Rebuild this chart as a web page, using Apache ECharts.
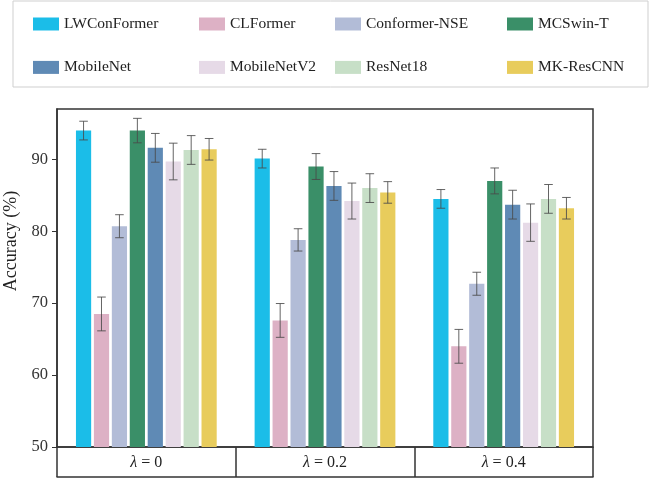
<!DOCTYPE html>
<html>
<head>
<meta charset="utf-8">
<script src="https://cdn.jsdelivr.net/npm/echarts@6/dist/echarts.min.js"></script>
<style>
    html, body { margin: 0; padding: 0; background: #fff; }
    #main { width: 652px; height: 481px; }
</style>
</head>
<body>
<div id="main"></div>
<script>
// 数据
var lambdas = ['0', '0.2', '0.4'];
var models = ['LWConFormer', 'CLFormer', 'Conformer-NSE', 'MCSwin-T', 'MobileNet', 'MobileNetV2', 'ResNet18', 'MK-ResCNN'];
var colors = ['#1bbde8', '#ddb1c5', '#b2bcd7', '#3a8f68', '#5f8ab5', '#e6dae7', '#c7dfc7', '#e8cc5c'];

var lwconformer = [94.0, 90.1, 84.5];
var clformer = [68.5, 67.6, 64.0];
var conformerNse = [80.7, 78.8, 72.7];
var mcswinT = [94.0, 89.0, 87.0];
var mobilenet = [91.6, 86.3, 83.7];
var mobilenetV2 = [89.7, 84.2, 81.2];
var resnet18 = [91.3, 86.0, 84.5];
var mkResCnn = [91.4, 85.4, 83.2];

// 误差 (±)
var lwconformerErr = [1.3, 1.3, 1.3];
var clformerErr = [2.35, 2.35, 2.35];
var conformerNseErr = [1.6, 1.55, 1.6];
var mcswinTErr = [1.7, 1.8, 1.8];
var mobilenetErr = [2.0, 2.0, 2.0];
var mobilenetV2Err = [2.55, 2.5, 2.6];
var resnet18Err = [2.0, 2.0, 2.0];
var mkResCnnErr = [1.5, 1.5, 1.5];

var yTicks = [50, 60, 70, 80, 90];

var values = [lwconformer, clformer, conformerNse, mcswinT, mobilenet, mobilenetV2, resnet18, mkResCnn];
var errors = [lwconformerErr, clformerErr, conformerNseErr, mcswinTErr, mobilenetErr, mobilenetV2Err, resnet18Err, mkResCnnErr];

var BAR_W = 15.2;
var BAR_GAP = 0.18;
var FONT = 'Liberation Serif';

var myChart = echarts.init(document.getElementById('main'));

var series = [];
for (var i = 0; i < models.length; i++) {
    series.push({
        name: models[i],
        type: 'bar',
        data: values[i],
        barWidth: BAR_W,
        barGap: (BAR_GAP * 100) + '%',
        itemStyle: { color: colors[i] },
        z: 2
    });
}

// 误差线数据: [类别, 模型序号, 下限, 上限]
var errData = [];
for (var i = 0; i < models.length; i++) {
    for (var j = 0; j < lambdas.length; j++) {
        errData.push([j, i, values[i][j] - errors[i][j], values[i][j] + errors[i][j]]);
    }
}

function renderError(params, api) {
    var cat = api.value(0);
    var k = api.value(1);
    var lo = api.coord([cat, api.value(2)]);
    var hi = api.coord([cat, api.value(3)]);
    var x = lo[0] + (k - (models.length - 1) / 2) * BAR_W * (1 + BAR_GAP);
    var cap = 4.3;
    var style = { stroke: '#4a4a4a', lineWidth: 1, opacity: 0.85 };
    return {
        type: 'group',
        children: [
            { type: 'line', shape: { x1: x, y1: lo[1], x2: x, y2: hi[1] }, style: style },
            { type: 'line', shape: { x1: x - cap, y1: hi[1], x2: x + cap, y2: hi[1] }, style: style },
            { type: 'line', shape: { x1: x - cap, y1: lo[1], x2: x + cap, y2: lo[1] }, style: style }
        ]
    };
}

series.push({
    type: 'custom',
    renderItem: renderError,
    data: errData,
    encode: { x: 0, y: [2, 3] },
    z: 5,
    silent: true
});

function legendCol(left, names) {
    return {
        orient: 'vertical',
        left: left,
        top: 11,
        itemWidth: 26,
        itemHeight: 13,
        itemGap: 27.4,
        itemTextGap: 12,
        icon: 'rect',
        data: names,
        textStyle: { fontFamily: FONT, fontSize: 15.5, color: '#222', lineHeight: 16 }
    };
}

var option = {
    backgroundColor: '#fff',
    animation: false,
    textStyle: { fontFamily: FONT },
    legend: [
        legendCol(28, ['LWConFormer', 'MobileNet']),
        legendCol(194, ['CLFormer', 'MobileNetV2']),
        legendCol(330, ['Conformer-NSE', 'ResNet18']),
        legendCol(502, ['MCSwin-T', 'MK-ResCNN'])
    ],
    graphic: [{
        type: 'rect',
        shape: { x: 13, y: 1, width: 635, height: 86 },
        style: { fill: 'none', stroke: '#cfcfcf', lineWidth: 1 },
        silent: true
    }],
    grid: {
        left: 57,
        right: 59,
        top: 109,
        bottom: 34,
        containLabel: false,
        outerBoundsMode: 'none',
        show: true,
        borderColor: '#333',
        borderWidth: 1.5,
        backgroundColor: 'transparent'
    },
    xAxis: [{
        type: 'category',
        data: lambdas,
        boundaryGap: true,
        axisLine: { lineStyle: { color: '#333', width: 1.5 } },
        axisTick: { show: true, interval: 0, length: 30, lineStyle: { color: '#333', width: 1.5 } },
        axisLabel: {
            interval: 0,
            margin: 8,
            formatter: function (v) { return '{i|λ} = ' + v; },
            fontFamily: FONT,
            fontSize: 16,
            color: '#222',
            rich: {
                i: { fontFamily: FONT, fontSize: 16, fontStyle: 'italic', color: '#222' }
            }
        }
    }, {
        type: 'category',
        data: lambdas,
        position: 'bottom',
        offset: 30,
        axisLine: { lineStyle: { color: '#333', width: 1.5 } },
        axisTick: { show: false },
        axisLabel: { show: false }
    }],
    yAxis: {
        type: 'value',
        min: 50,
        max: 97,
        interval: 10,
        name: 'Accuracy (%)',
        nameLocation: 'middle',
        nameGap: 35,
        nameTextStyle: { fontFamily: FONT, fontSize: 18, color: '#222', padding: [0, 0, 0, 74] },
        axisLine: { show: true, lineStyle: { color: '#333', width: 1.5 } },
        axisTick: { show: true, length: 5, customValues: yTicks, lineStyle: { color: '#333' } },
        axisLabel: { margin: 9, customValues: yTicks, fontFamily: FONT, fontSize: 16.5, color: '#333' },
        splitLine: { show: false }
    },
    series: series
};

myChart.setOption(option);
</script>
</body>
</html>
